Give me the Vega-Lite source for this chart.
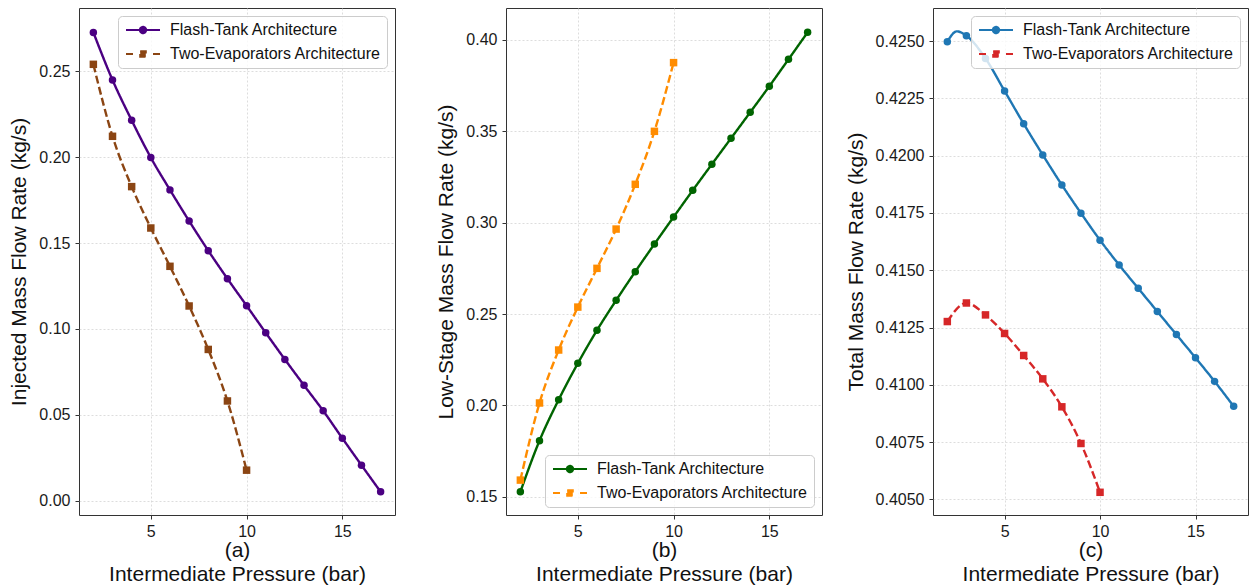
{
  "$schema": "https://vega.github.io/schema/vega-lite/v6.json",
  "padding": {"left": 8, "top": 7, "right": 0, "bottom": 0},
  "bounds": "flush",
  "spacing": 111,
  "resolve": {"scale": {"color": "independent", "strokeDash": "independent"}, "legend": {"color": "independent", "strokeDash": "independent"}},
  "config": {
    "font": "Liberation Sans",
    "view": {"stroke": "#333333", "strokeWidth": 1},
    "axis": {"domain": false, "grid": true, "gridColor": "#d4d4d4", "gridDash": [2, 2], "gridWidth": 0.8, "tickSize": 4, "tickColor": "#333333", "labelFontSize": 16, "labelColor": "#1a1a1a", "titleFontSize": 21, "titleFontWeight": "normal", "titleColor": "#111111", "labelPadding": 4},
    "axisY": {"titlePadding": 9, "labelPadding": 5},
    "axisX": {"titlePadding": 0, "titleLineHeight": 24},
    "legend": {"orient": "top-right", "offset": 8, "title": null, "symbolSize": 64, "symbolStrokeWidth": 2, "symbolOffset": 11, "labelOffset": 19, "labelFontSize": 16, "labelColor": "#111111", "fillColor": "rgba(255,255,255,0.8)", "strokeColor": "#cccccc", "cornerRadius": 4, "padding": 6, "rowPadding": 8, "labelLimit": 400}
  },
  "hconcat": [
    {
      "width": 316, "height": 507,
      "data": {"values": [
        {"p": 2, "v": 0.2727, "s": "Flash-Tank Architecture"},
        {"p": 3, "v": 0.2450, "s": "Flash-Tank Architecture"},
        {"p": 4, "v": 0.2215, "s": "Flash-Tank Architecture"},
        {"p": 5, "v": 0.1998, "s": "Flash-Tank Architecture"},
        {"p": 6, "v": 0.1810, "s": "Flash-Tank Architecture"},
        {"p": 7, "v": 0.1629, "s": "Flash-Tank Architecture"},
        {"p": 8, "v": 0.1456, "s": "Flash-Tank Architecture"},
        {"p": 9, "v": 0.1293, "s": "Flash-Tank Architecture"},
        {"p": 10, "v": 0.1136, "s": "Flash-Tank Architecture"},
        {"p": 11, "v": 0.0978, "s": "Flash-Tank Architecture"},
        {"p": 12, "v": 0.0823, "s": "Flash-Tank Architecture"},
        {"p": 13, "v": 0.0672, "s": "Flash-Tank Architecture"},
        {"p": 14, "v": 0.0524, "s": "Flash-Tank Architecture"},
        {"p": 15, "v": 0.0364, "s": "Flash-Tank Architecture"},
        {"p": 16, "v": 0.0207, "s": "Flash-Tank Architecture"},
        {"p": 17, "v": 0.0052, "s": "Flash-Tank Architecture"},
        {"p": 2, "v": 0.2541, "s": "Two-Evaporators Architecture"},
        {"p": 3, "v": 0.2122, "s": "Two-Evaporators Architecture"},
        {"p": 4, "v": 0.1829, "s": "Two-Evaporators Architecture"},
        {"p": 5, "v": 0.1588, "s": "Two-Evaporators Architecture"},
        {"p": 6, "v": 0.1365, "s": "Two-Evaporators Architecture"},
        {"p": 7, "v": 0.1134, "s": "Two-Evaporators Architecture"},
        {"p": 8, "v": 0.0881, "s": "Two-Evaporators Architecture"},
        {"p": 9, "v": 0.0581, "s": "Two-Evaporators Architecture"},
        {"p": 10, "v": 0.0178, "s": "Two-Evaporators Architecture"}
      ]},
      "encoding": {
        "x": {"field": "p", "type": "quantitative", "scale": {"domain": [1.25, 17.75], "nice": false, "zero": false}, "axis": {"values": [5, 10, 15], "title": ["(a)", "Intermediate Pressure (bar)"]}},
        "y": {"field": "v", "type": "quantitative", "scale": {"domain": [-0.0083, 0.2869], "nice": false, "zero": false}, "axis": {"values": [0, 0.05, 0.1, 0.15, 0.2, 0.25], "format": ".2f", "title": "Injected Mass Flow Rate (kg/s)"}}
      },
      "layer": [
        {
          "mark": {"type": "line", "strokeWidth": 2.4, "interpolate": "monotone"},
          "encoding": {
            "color": {"field": "s", "type": "nominal", "scale": {"domain": ["Flash-Tank Architecture", "Two-Evaporators Architecture"], "range": ["#4b0082", "#8b4513"]},
              "legend": {"orient": "top-right", "encode": {"symbols": {"update": {
                "shape": {"signal": "datum.value === 'Flash-Tank Architecture' ? 'M-4.25,0H4.25M0.8,0A0.8,0.8,0,1,1,-0.8,0A0.8,0.8,0,1,1,0.8,0Z' : 'M-4.25,0H-2.5M2.5,0H4.25M-0.7,-0.7H0.7V0.7H-0.7Z'"},
                "fill": {"signal": "datum.value === 'Flash-Tank Architecture' ? '#4b0082' : '#8b4513'"},
                "stroke": {"signal": "datum.value === 'Flash-Tank Architecture' ? '#4b0082' : '#8b4513'"},
                "strokeDash": {"value": [1, 0]}, "opacity": {"value": 1}, "size": {"value": 64}, "strokeWidth": {"value": 2}}}}}},
            "strokeDash": {"field": "s", "type": "nominal", "scale": {"domain": ["Flash-Tank Architecture", "Two-Evaporators Architecture"], "range": [[1, 0], [8, 3.5]]}, "legend": null}
          }
        },
        {
          "mark": {"type": "point", "filled": true, "opacity": 1},
          "encoding": {
            "color": {"field": "s", "type": "nominal"},
            "shape": {"condition": {"test": "datum.s === 'Flash-Tank Architecture'", "value": "circle"}, "value": "square"},
            "size": {"value": 56}
          }
        }
      ]
    },
    {
      "width": 316, "height": 507,
      "data": {"values": [
        {"p": 2, "v": 0.1527, "s": "Flash-Tank Architecture"},
        {"p": 3, "v": 0.1807, "s": "Flash-Tank Architecture"},
        {"p": 4, "v": 0.2031, "s": "Flash-Tank Architecture"},
        {"p": 5, "v": 0.2230, "s": "Flash-Tank Architecture"},
        {"p": 6, "v": 0.2411, "s": "Flash-Tank Architecture"},
        {"p": 7, "v": 0.2575, "s": "Flash-Tank Architecture"},
        {"p": 8, "v": 0.2732, "s": "Flash-Tank Architecture"},
        {"p": 9, "v": 0.2883, "s": "Flash-Tank Architecture"},
        {"p": 10, "v": 0.3031, "s": "Flash-Tank Architecture"},
        {"p": 11, "v": 0.3177, "s": "Flash-Tank Architecture"},
        {"p": 12, "v": 0.3320, "s": "Flash-Tank Architecture"},
        {"p": 13, "v": 0.3462, "s": "Flash-Tank Architecture"},
        {"p": 14, "v": 0.3604, "s": "Flash-Tank Architecture"},
        {"p": 15, "v": 0.3747, "s": "Flash-Tank Architecture"},
        {"p": 16, "v": 0.3894, "s": "Flash-Tank Architecture"},
        {"p": 17, "v": 0.4042, "s": "Flash-Tank Architecture"},
        {"p": 2, "v": 0.1591, "s": "Two-Evaporators Architecture"},
        {"p": 3, "v": 0.2013, "s": "Two-Evaporators Architecture"},
        {"p": 4, "v": 0.2303, "s": "Two-Evaporators Architecture"},
        {"p": 5, "v": 0.2538, "s": "Two-Evaporators Architecture"},
        {"p": 6, "v": 0.2750, "s": "Two-Evaporators Architecture"},
        {"p": 7, "v": 0.2965, "s": "Two-Evaporators Architecture"},
        {"p": 8, "v": 0.3210, "s": "Two-Evaporators Architecture"},
        {"p": 9, "v": 0.3500, "s": "Two-Evaporators Architecture"},
        {"p": 10, "v": 0.3876, "s": "Two-Evaporators Architecture"}
      ]},
      "encoding": {
        "x": {"field": "p", "type": "quantitative", "scale": {"domain": [1.25, 17.75], "nice": false, "zero": false}, "axis": {"values": [5, 10, 15], "title": ["(b)", "Intermediate Pressure (bar)"]}},
        "y": {"field": "v", "type": "quantitative", "scale": {"domain": [0.14, 0.4175], "nice": false, "zero": false}, "axis": {"values": [0.15, 0.2, 0.25, 0.3, 0.35, 0.4], "format": ".2f", "title": "Low-Stage Mass Flow Rate (kg/s)"}}
      },
      "layer": [
        {
          "mark": {"type": "line", "strokeWidth": 2.4, "interpolate": "monotone"},
          "encoding": {
            "color": {"field": "s", "type": "nominal", "scale": {"domain": ["Flash-Tank Architecture", "Two-Evaporators Architecture"], "range": ["#006400", "#ff8c00"]},
              "legend": {"orient": "bottom-right", "encode": {"symbols": {"update": {
                "shape": {"signal": "datum.value === 'Flash-Tank Architecture' ? 'M-4.25,0H4.25M0.8,0A0.8,0.8,0,1,1,-0.8,0A0.8,0.8,0,1,1,0.8,0Z' : 'M-4.25,0H-2.5M2.5,0H4.25M-0.7,-0.7H0.7V0.7H-0.7Z'"},
                "fill": {"signal": "datum.value === 'Flash-Tank Architecture' ? '#006400' : '#ff8c00'"},
                "stroke": {"signal": "datum.value === 'Flash-Tank Architecture' ? '#006400' : '#ff8c00'"},
                "strokeDash": {"value": [1, 0]}, "opacity": {"value": 1}, "size": {"value": 64}, "strokeWidth": {"value": 2}}}}}},
            "strokeDash": {"field": "s", "type": "nominal", "scale": {"domain": ["Flash-Tank Architecture", "Two-Evaporators Architecture"], "range": [[1, 0], [8, 3.5]]}, "legend": null}
          }
        },
        {
          "mark": {"type": "point", "filled": true, "opacity": 1},
          "encoding": {
            "color": {"field": "s", "type": "nominal"},
            "shape": {"condition": {"test": "datum.s === 'Flash-Tank Architecture'", "value": "circle"}, "value": "square"},
            "size": {"value": 56}
          }
        }
      ]
    },
    {
      "width": 315, "height": 507,
      "data": {"values": [
        {"p": 2, "v": 0.42497, "s": "Flash-Tank Architecture", "m": true},
        {"p": 2.5, "v": 0.42542, "s": "Flash-Tank Architecture", "m": false},
        {"p": 3, "v": 0.42523, "s": "Flash-Tank Architecture", "m": true},
        {"p": 4, "v": 0.42424, "s": "Flash-Tank Architecture", "m": true},
        {"p": 5, "v": 0.42282, "s": "Flash-Tank Architecture", "m": true},
        {"p": 6, "v": 0.42139, "s": "Flash-Tank Architecture", "m": true},
        {"p": 7, "v": 0.42003, "s": "Flash-Tank Architecture", "m": true},
        {"p": 8, "v": 0.41872, "s": "Flash-Tank Architecture", "m": true},
        {"p": 9, "v": 0.41749, "s": "Flash-Tank Architecture", "m": true},
        {"p": 10, "v": 0.41631, "s": "Flash-Tank Architecture", "m": true},
        {"p": 11, "v": 0.41523, "s": "Flash-Tank Architecture", "m": true},
        {"p": 12, "v": 0.41421, "s": "Flash-Tank Architecture", "m": true},
        {"p": 13, "v": 0.41320, "s": "Flash-Tank Architecture", "m": true},
        {"p": 14, "v": 0.41219, "s": "Flash-Tank Architecture", "m": true},
        {"p": 15, "v": 0.41118, "s": "Flash-Tank Architecture", "m": true},
        {"p": 16, "v": 0.41015, "s": "Flash-Tank Architecture", "m": true},
        {"p": 17, "v": 0.40906, "s": "Flash-Tank Architecture", "m": true},
        {"p": 2, "v": 0.41276, "s": "Two-Evaporators Architecture", "m": true},
        {"p": 3, "v": 0.41357, "s": "Two-Evaporators Architecture", "m": true},
        {"p": 4, "v": 0.41305, "s": "Two-Evaporators Architecture", "m": true},
        {"p": 5, "v": 0.41224, "s": "Two-Evaporators Architecture", "m": true},
        {"p": 6, "v": 0.41128, "s": "Two-Evaporators Architecture", "m": true},
        {"p": 7, "v": 0.41026, "s": "Two-Evaporators Architecture", "m": true},
        {"p": 8, "v": 0.40904, "s": "Two-Evaporators Architecture", "m": true},
        {"p": 9, "v": 0.40744, "s": "Two-Evaporators Architecture", "m": true},
        {"p": 10, "v": 0.40531, "s": "Two-Evaporators Architecture", "m": true}
      ]},
      "encoding": {
        "x": {"field": "p", "type": "quantitative", "scale": {"domain": [1.25, 17.75], "nice": false, "zero": false}, "axis": {"values": [5, 10, 15], "title": ["(c)", "Intermediate Pressure (bar)"]}},
        "y": {"field": "v", "type": "quantitative", "scale": {"domain": [0.40432, 0.42644], "nice": false, "zero": false}, "axis": {"values": [0.405, 0.4075, 0.41, 0.4125, 0.415, 0.4175, 0.42, 0.4225, 0.425], "format": ".4f", "title": "Total Mass Flow Rate (kg/s)"}}
      },
      "layer": [
        {
          "mark": {"type": "line", "strokeWidth": 2.4, "interpolate": "monotone"},
          "encoding": {
            "color": {"field": "s", "type": "nominal", "scale": {"domain": ["Flash-Tank Architecture", "Two-Evaporators Architecture"], "range": ["#1f77b4", "#d62728"]},
              "legend": {"orient": "top-right", "encode": {"symbols": {"update": {
                "shape": {"signal": "datum.value === 'Flash-Tank Architecture' ? 'M-4.25,0H4.25M0.8,0A0.8,0.8,0,1,1,-0.8,0A0.8,0.8,0,1,1,0.8,0Z' : 'M-4.25,0H-2.5M2.5,0H4.25M-0.7,-0.7H0.7V0.7H-0.7Z'"},
                "fill": {"signal": "datum.value === 'Flash-Tank Architecture' ? '#1f77b4' : '#d62728'"},
                "stroke": {"signal": "datum.value === 'Flash-Tank Architecture' ? '#1f77b4' : '#d62728'"},
                "strokeDash": {"value": [1, 0]}, "opacity": {"value": 1}, "size": {"value": 64}, "strokeWidth": {"value": 2}}}}}},
            "strokeDash": {"field": "s", "type": "nominal", "scale": {"domain": ["Flash-Tank Architecture", "Two-Evaporators Architecture"], "range": [[1, 0], [8, 3.5]]}, "legend": null}
          }
        },
        {
          "transform": [{"filter": "datum.m"}],
          "mark": {"type": "point", "filled": true, "opacity": 1},
          "encoding": {
            "color": {"field": "s", "type": "nominal"},
            "shape": {"condition": {"test": "datum.s === 'Flash-Tank Architecture'", "value": "circle"}, "value": "square"},
            "size": {"value": 56}
          }
        }
      ]
    }
  ]
}
